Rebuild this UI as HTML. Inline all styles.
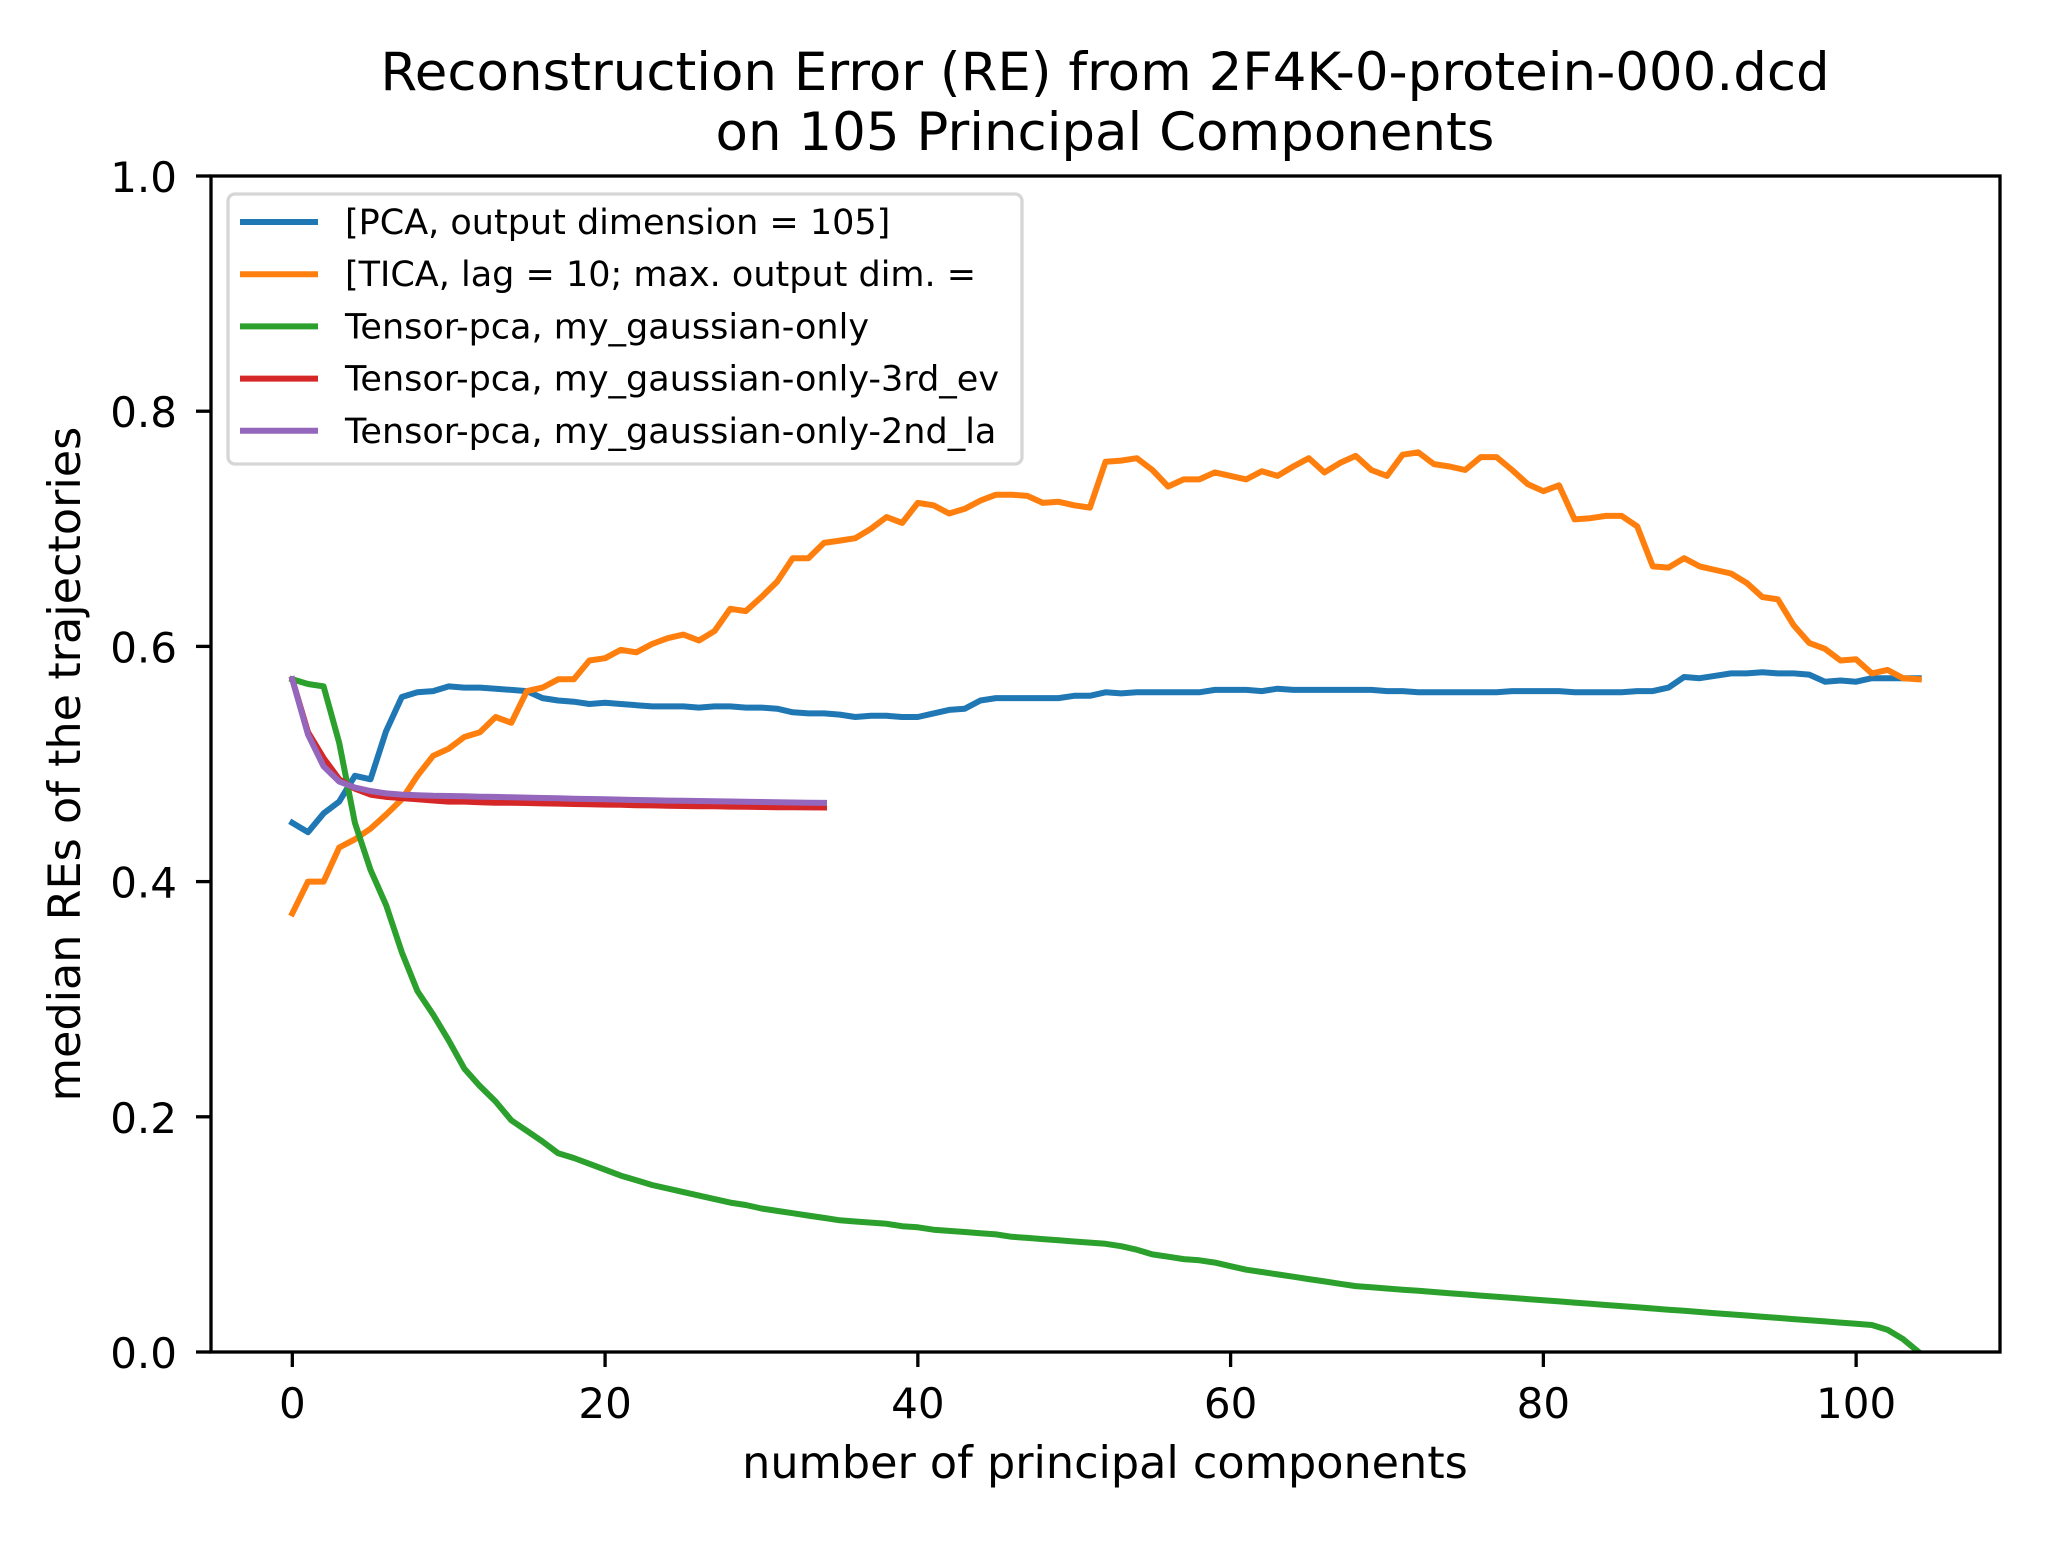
<!DOCTYPE html>
<html><head><meta charset="utf-8"><style>
html,body{margin:0;padding:0;background:#fff;}
svg text{font-family:"DejaVu Sans","Liberation Sans",sans-serif;fill:#000;}
</style></head><body>
<svg id="chart" width="2048" height="1536" viewBox="0 0 2048 1536" xmlns="http://www.w3.org/2000/svg">
<rect width="2048" height="1536" fill="#fff"/>
<text x="1105" y="90" font-size="53" text-anchor="middle">Reconstruction Error (RE) from 2F4K-0-protein-000.dcd</text>
<text x="1105" y="150" font-size="53" text-anchor="middle">on 105 Principal Components</text>
<text x="1105" y="1478" font-size="44.5" text-anchor="middle">number of principal components</text>
<text transform="translate(80,764) rotate(-90)" font-size="44.5" text-anchor="middle">median REs of the trajectories</text>
<g id="plot"></g>
<g id="axes"></g>
<g id="legend"></g>
</svg>
<script>
const xTicks=[0,20,40,60,80,100];
const yTicks=[0.0,0.2,0.4,0.6,0.8,1.0];
const seriesNames=["[PCA, output dimension = 105]","[TICA, lag = 10; max. output dim. =","Tensor-pca, my_gaussian-only","Tensor-pca, my_gaussian-only-3rd_ev","Tensor-pca, my_gaussian-only-2nd_la"];
const seriesColors=["#1f77b4","#ff7f0e","#2ca02c","#d62728","#9467bd"];
const pca=[0.45,0.442,0.458,0.468,0.49,0.487,0.528,0.557,0.561,0.562,0.566,0.565,0.565,0.564,0.563,0.562,0.556,0.554,0.553,0.551,0.552,0.551,0.55,0.549,0.549,0.549,0.548,0.549,0.549,0.548,0.548,0.547,0.544,0.543,0.543,0.542,0.54,0.541,0.541,0.54,0.54,0.543,0.546,0.547,0.554,0.556,0.556,0.556,0.556,0.556,0.558,0.558,0.561,0.56,0.561,0.561,0.561,0.561,0.561,0.563,0.563,0.563,0.562,0.564,0.563,0.563,0.563,0.563,0.563,0.563,0.562,0.562,0.561,0.561,0.561,0.561,0.561,0.561,0.562,0.562,0.562,0.562,0.561,0.561,0.561,0.561,0.562,0.562,0.565,0.574,0.573,0.575,0.577,0.577,0.578,0.577,0.577,0.576,0.57,0.571,0.57,0.573,0.573,0.573,0.573];
const tica=[0.373,0.4,0.4,0.429,0.436,0.445,0.457,0.47,0.49,0.507,0.513,0.523,0.527,0.54,0.535,0.562,0.565,0.572,0.572,0.588,0.59,0.597,0.595,0.602,0.607,0.61,0.605,0.613,0.632,0.63,0.642,0.655,0.675,0.675,0.688,0.69,0.692,0.7,0.71,0.705,0.722,0.72,0.713,0.717,0.724,0.729,0.729,0.728,0.722,0.723,0.72,0.718,0.757,0.758,0.76,0.75,0.736,0.742,0.742,0.748,0.745,0.742,0.749,0.745,0.753,0.76,0.748,0.756,0.762,0.75,0.745,0.763,0.765,0.755,0.753,0.75,0.761,0.761,0.75,0.738,0.732,0.737,0.708,0.709,0.711,0.711,0.702,0.668,0.667,0.675,0.668,0.665,0.662,0.654,0.642,0.64,0.618,0.603,0.598,0.588,0.589,0.577,0.58,0.573,0.572];
const gauss=[0.572,0.568,0.566,0.518,0.45,0.41,0.38,0.34,0.307,0.287,0.265,0.241,0.226,0.213,0.197,0.188,0.179,0.169,0.165,0.16,0.155,0.15,0.146,0.142,0.139,0.136,0.133,0.13,0.127,0.125,0.122,0.12,0.118,0.116,0.114,0.112,0.111,0.11,0.109,0.107,0.106,0.104,0.103,0.102,0.101,0.1,0.098,0.097,0.096,0.095,0.094,0.093,0.092,0.09,0.087,0.083,0.081,0.079,0.078,0.076,0.073,0.07,0.068,0.066,0.064,0.062,0.06,0.058,0.056,0.055,0.054,0.053,0.052,0.051,0.05,0.049,0.048,0.047,0.046,0.045,0.044,0.043,0.042,0.041,0.04,0.039,0.038,0.037,0.036,0.035,0.034,0.033,0.032,0.031,0.03,0.029,0.028,0.027,0.026,0.025,0.024,0.023,0.019,0.011,0.0];
const ev3=[0.572,0.527,0.505,0.487,0.479,0.474,0.472,0.471,0.47,0.469,0.468,0.468,0.4675,0.467,0.467,0.4668,0.4665,0.4663,0.466,0.4658,0.4655,0.4653,0.465,0.4648,0.4645,0.4643,0.464,0.464,0.4638,0.4636,0.4634,0.4633,0.4632,0.4631,0.463];
const la2=[0.572,0.525,0.498,0.485,0.48,0.477,0.475,0.474,0.4735,0.473,0.4728,0.4725,0.4722,0.472,0.4717,0.4714,0.4711,0.4708,0.4705,0.4702,0.47,0.4697,0.4694,0.4691,0.4689,0.4687,0.4685,0.4683,0.4681,0.4679,0.4677,0.4675,0.4673,0.4671,0.467];
const allSeries=[pca,tica,gauss,ev3,la2];
const L=211,R=2000,T=176,B=1352,XMIN=-5.2,XMAX=109.2;
const sx=v=>L+(v-XMIN)/(XMAX-XMIN)*(R-L);
const sy=v=>B-v*(B-T);
const NS="http://www.w3.org/2000/svg";
function mk(tag,attrs,parent){const e=document.createElementNS(NS,tag);for(const k in attrs)e.setAttribute(k,attrs[k]);parent.appendChild(e);return e;}
const plot=document.getElementById('plot'),axes=document.getElementById('axes'),legend=document.getElementById('legend');
const clip=mk('clipPath',{id:'clp'},plot);mk('rect',{x:L,y:T,width:R-L,height:B-T},clip);
const slugs=["pca","tica","gaussian-only","gaussian-3rd-ev","gaussian-2nd-la"];
allSeries.forEach((s,i)=>{
  const d=s.map((v,j)=>(j?'L':'M')+sx(j).toFixed(1)+' '+sy(v).toFixed(1)).join(' ');
  const p=mk('path',{d:d,fill:'none',stroke:seriesColors[i],'stroke-width':6,'stroke-linejoin':'round','stroke-linecap':'square','clip-path':'url(#clp)'},plot);
  
  
});
const frame=mk('rect',{x:L,y:T,width:R-L,height:B-T,fill:'none',stroke:'#000','stroke-width':3.3},axes);


xTicks.forEach(t=>{
  const x=sx(t);
  const ln=mk('line',{x1:x,y1:B,x2:x,y2:B+15,stroke:'#000','stroke-width':3.3},axes);
  
  
  const tx=mk('text',{x:x,y:1418,'font-size':42,'text-anchor':'middle'},axes);tx.textContent=t;
  
  
});
yTicks.forEach(t=>{
  const y=sy(t);
  const ln=mk('line',{x1:L-15,y1:y,x2:L,y2:y,stroke:'#000','stroke-width':3.3},axes);
  
  
  const tx=mk('text',{x:177,y:y+16,'font-size':42,'text-anchor':'end'},axes);tx.textContent=t.toFixed(1);
  
  
});
const box=mk('rect',{x:228,y:194,width:794,height:270,rx:7,fill:'#fff','fill-opacity':0.8,stroke:'#d6d6d6','stroke-width':3.3},legend);


seriesNames.forEach((n,i)=>{
  const y=222+i*52.2;
  const g=mk('g',{},legend);
  
  
  mk('line',{x1:240,y1:y,x2:318,y2:y,stroke:seriesColors[i],'stroke-width':6},g);
  const tx=mk('text',{x:345,y:y+12,'font-size':35},g);tx.textContent=n;
});
</script>
</body></html>
